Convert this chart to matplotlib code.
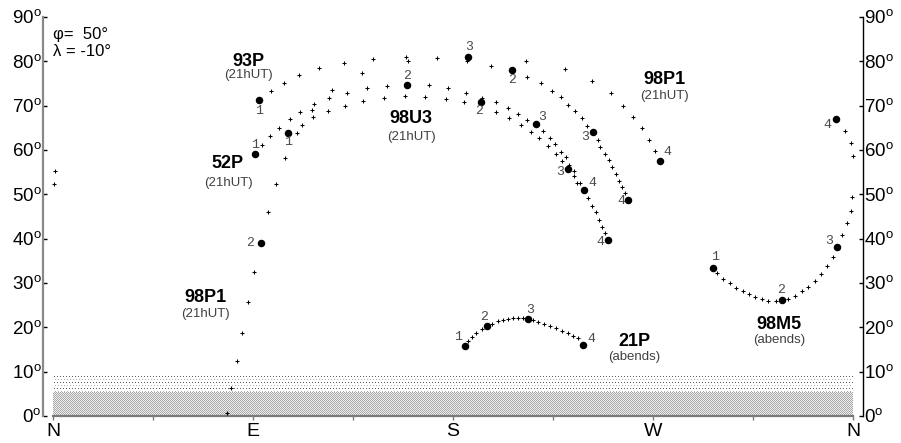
import numpy as np
import matplotlib
matplotlib.use("Agg")
import matplotlib.pyplot as plt

plt.rcParams['font.family'] = ['Liberation Sans', 'DejaVu Sans']
plt.rcParams['mathtext.fontset'] = 'custom'
plt.rcParams['mathtext.rm'] = 'Liberation Sans'

# ---- horizon frame ----
dir_az = [0, 90, 180, 270, 360]
dir_labels = ['N', 'E', 'S', 'W', 'N']
alt_ticks = [0, 10, 20, 30, 40, 50, 60, 70, 80, 90]

site_text = ["\u03c6=  50\u00b0", "\u03bb = -10\u00b0"]

# ---- comet tracks: azimuth / altitude of the nightly positions ----
c93p_az = [98.1, 103.95, 110.7, 119.7, 130.95, 144.0, 159.75, 186.3, 197.1,
           213.3, 219.6, 224.55, 228.6, 231.75, 234.9, 238.05, 240.3,
           245.25, 246.15, 248.4, 250.2, 251.55, 253.35, 254.7, 256.05, 257.4]
c93p_alt = [73.31, 75.12, 76.92, 78.5, 79.63, 80.53, 80.08, 80.08, 78.95,
            76.47, 75.12, 73.31, 71.96, 70.16, 68.8, 67.22, 65.42,
            62.26, 60.68, 59.1, 57.75, 56.17, 54.59, 53.01, 51.66, 50.3]
c93p_mark_az = [92.7, 206.55, 243.0, 258.75]
c93p_mark_alt = [71.28, 78.05, 64.06, 48.73]
c93p_mark_lbl = ['1', '2', '3', '4']

c98p1_az = [78.3, 80.1, 82.8, 85.05, 87.75, 90.45,
            96.75, 100.35, 104.4, 109.8, 116.55, 125.55, 139.05, 158.85, 172.8,
            212.85, 230.4, 242.55, 251.1, 256.5, 261.0, 265.05, 268.2, 270.9]
c98p1_alt = [0.68, 6.32, 12.41, 18.72, 25.72, 32.48,
             46.02, 52.33, 58.2, 63.84, 69.03, 73.54, 77.37, 80.98, 80.76,
             80.08, 78.28, 75.57, 72.86, 69.93, 67.45, 64.97, 62.26, 59.78]
c98p1_mark_az = [93.6, 186.75, 273.15]
c98p1_mark_alt = [39.03, 80.98, 57.52]
c98p1_mark_lbl = ['2', '3', '4']

c52p_az = [94.05, 97.65, 101.7, 106.65, 111.15, 117.45, 124.2, 132.3, 141.3, 150.3,
           169.2, 177.75, 185.85, 193.05, 199.35, 204.75, 209.25, 213.3,
           220.5, 223.65, 225.9, 228.6, 230.85, 232.2, 234.45, 235.8]
c52p_alt = [61.13, 63.16, 64.97, 67.0, 68.58, 70.38, 71.73, 72.86, 73.99, 74.44,
            74.67, 73.99, 72.86, 71.73, 70.83, 69.48, 68.13, 66.77,
            64.29, 62.71, 61.36, 59.55, 58.42, 56.62, 55.27, 52.56]
c52p_mark_az = [90.9, 159.3, 217.35, 238.95]
c52p_mark_alt = [59.1, 74.67, 65.87, 50.98]
c52p_mark_lbl = ['1', '2', '3', '4']

c98u3_az = [112.05, 117.0, 123.75, 131.4, 139.5, 148.95, 158.4, 167.4, 176.85, 184.95,
            199.35, 205.2, 210.6, 215.1, 218.7, 222.75, 226.35, 229.05,
            234.45, 237.15, 240.75, 242.55, 244.35, 245.7, 247.05, 248.4]
c98u3_alt = [65.64, 67.45, 68.8, 69.93, 71.06, 71.73, 72.18, 71.96, 71.51, 70.83,
             68.58, 67.22, 65.64, 64.06, 62.71, 60.91, 59.1, 57.52,
             54.14, 52.56, 49.18, 47.37, 46.02, 44.21, 42.63, 41.28]
c98u3_mark_az = [105.75, 192.6, 231.75, 249.75]
c98u3_mark_alt = [63.84, 70.83, 55.72, 39.7]
c98u3_mark_lbl = ['1', '2', '3', '4']

c21p_az = [186.75, 188.55, 190.35, 193.05, 197.55, 200.25, 202.5, 204.75, 207.0,
           209.25, 211.5, 216.0, 218.25, 220.95, 223.65, 226.35, 229.05, 231.75,
           234.0, 236.25]
c21p_alt = [16.92, 17.82, 18.72, 19.63, 20.75, 21.43, 21.66, 21.88, 22.11,
            22.11, 22.11, 21.66, 21.2, 20.75, 20.3, 19.85, 19.17, 18.72,
            18.05, 17.6]
c21p_mark_az = [185.4, 195.3, 213.75, 238.5]
c21p_mark_alt = [15.79, 20.3, 21.88, 16.02]
c21p_mark_lbl = ['1', '2', '3', '4']

# azimuths past 360 wrap round to the northern edge on the left
c98m5_az = [298.8, 301.5, 304.65, 307.35, 310.5, 313.2, 315.9, 319.05, 321.75, 325.35,
            330.75, 333.9, 337.05, 339.75, 342.9, 345.6, 348.3, 351.0,
            355.05, 357.3, 359.1, 359.55, 360.45, 360.9, 359.8, 359.1, 356.4]
c98m5_alt = [32.26, 30.9, 30.0, 28.87, 28.2, 27.52, 26.84, 26.39, 25.94, 25.94,
             26.39, 27.07, 28.2, 29.1, 30.45, 32.03, 33.84, 35.87,
             40.83, 43.54, 46.24, 49.4, 52.33, 55.27, 58.65, 61.58, 64.29]
c98m5_mark_az = [297.0, 328.05, 352.8, 352.35]
c98m5_mark_alt = [33.39, 26.17, 38.12, 67.0]
c98m5_mark_lbl = ['1', '2', '3', '4']

comets = [
    ("93P", "(21hUT)", c93p_az, c93p_alt, c93p_mark_az, c93p_mark_alt, c93p_mark_lbl),
    ("98P1", "(21hUT)", c98p1_az, c98p1_alt, c98p1_mark_az, c98p1_mark_alt, c98p1_mark_lbl),
    ("52P", "(21hUT)", c52p_az, c52p_alt, c52p_mark_az, c52p_mark_alt, c52p_mark_lbl),
    ("98U3", "(21hUT)", c98u3_az, c98u3_alt, c98u3_mark_az, c98u3_mark_alt, c98u3_mark_lbl),
    ("21P", "(abends)", c21p_az, c21p_alt, c21p_mark_az, c21p_mark_alt, c21p_mark_lbl),
    ("98M5", "(abends)", c98m5_az, c98m5_alt, c98m5_mark_az, c98m5_mark_alt, c98m5_mark_lbl),
]

# pixel offsets of the date numbers next to their marker dots
num_offsets = {
    "93P": [(0, -11), (0, -10), (-8, -5), (-7, -1)],
    "98P1": [(-11, 0), (1, 10), (7, 9)],
    "52P": [(0, 9), (0, 9), (6, 7), (8, 7)],
    "98U3": [(0, -9), (-2, -9), (-8, -3), (-8, -2)],
    "21P": [(-7, 9), (-3, 9), (2, 9), (8, 6)],
    "98M5": [(2, 11), (-1, 10), (-8, 6), (-9, -6)],
}

# name label positions (azimuth, altitude of the bold name and the note below)
name_pos = {
    "93P": [(87.75, 79.85, 76.9)],
    "98P1": [(274.95, 75.8, 72.2), (68.4, 26.8, 23.0)],
    "52P": [(78.75, 56.85, 52.6)],
    "98U3": [(161.1, 67.2, 62.9)],
    "21P": [(261.45, 16.7, 13.3)],
    "98M5": [(326.7, 20.75, 17.1)],
}

W, H = 901, 443
fig = plt.figure(figsize=(W / 100, H / 100), dpi=100)
fig.patch.set_facecolor('white')

# ground haze bands near the horizon, drawn as pixel textures
x0, x1 = 53, 853
y_top, y_mid, y_bot = 375, 392, 416
tex = np.full((y_bot - y_top, x1 - x0, 3), 255, dtype=np.uint8)
rows = np.arange(y_top, y_bot)[:, None]
cols = np.arange(x0, x1)[None, :]
r = rows - y_top
sparse_a = (rows < y_mid) & (r % 6 == 1) & (cols % 3 == 0)
sparse_b = (rows < y_mid) & (r % 6 == 4) & (cols % 3 == 1)
dense_a = (rows >= y_mid) & ((rows + cols) % 2 == 0)
tex[sparse_a] = 95
tex[sparse_b] = 175
tex[dense_a] = 168
tex[(rows >= y_mid) & ~dense_a] = 238
fig.figimage(tex, xo=x0, yo=H - y_bot, origin='upper', zorder=0)

ax = fig.add_axes([43 / W, 27 / H, 820 / W, 399 / H])
ax.set_zorder(1)
ax.patch.set_visible(False)
ax.set_xlim(-4.5, 364.5)
ax.set_ylim(0, 90)

for name, note, az, alt, maz, malt, mlbl in comets:
    az = np.mod(np.asarray(az), 360.0)
    ax.plot(az, alt, linestyle='none', marker='+', markersize=2.4,
            markeredgewidth=0.75, color='black', zorder=3)
    maz = np.mod(np.asarray(maz), 360.0)
    ax.plot(maz, malt, linestyle='none', marker='o', markersize=4.4,
            color='black', zorder=4)
    for (a, h, lbl), (dx, dy) in zip(zip(maz, malt, mlbl), num_offsets[name]):
        ax.annotate(lbl, (a, h), xytext=(dx, dy), textcoords='offset pixels',
                    ha='center', va='center', fontsize=9.5, color='#4a4a4a',
                    family=['Liberation Mono', 'DejaVu Sans Mono'], zorder=5)
    for (a, hn, hs) in name_pos[name]:
        ax.text(a, hn, name, ha='center', va='center', fontsize=13,
                fontweight='bold', color='black', zorder=5)
        ax.text(a, hs, note, ha='center', va='center', fontsize=9.5,
                color='#404040', zorder=5)

# site coordinates
fig.text(53 / W, 1 - 34 / H, site_text[0], ha='left', va='center', fontsize=12)
fig.text(53 / W, 1 - 52 / H, site_text[1], ha='left', va='center', fontsize=12)

# axes decoration
for s in ['top', 'bottom']:
    ax.spines[s].set_visible(False)
ax.spines['left'].set_color('#8a8a8a')
ax.spines['left'].set_linewidth(1.6)
ax.spines['right'].set_color('black')
ax.spines['right'].set_linewidth(1.0)
ax.plot([0, 360], [0, 0], color='#7a7a7a', linewidth=1.6, zorder=2, clip_on=False)

deg = "$^{\\rm o}$"
ax.set_yticks(alt_ticks)
ax.set_yticklabels([f"{v}{deg}" for v in alt_ticks])
ax.tick_params(axis='y', which='both', left=True, right=True, labelleft=True,
               labelright=True, direction='in', length=3, width=1,
               labelsize=13.5, pad=1)

ax.set_xticks(dir_az)
ax.set_xticklabels(dir_labels)
ax.set_xticks([45, 135, 225, 315], minor=True)
ax.tick_params(axis='x', which='both', direction='out', length=3, width=1,
               color='#7a7a7a', labelsize=14, pad=2)

fig.savefig('out.png', dpi=100)
